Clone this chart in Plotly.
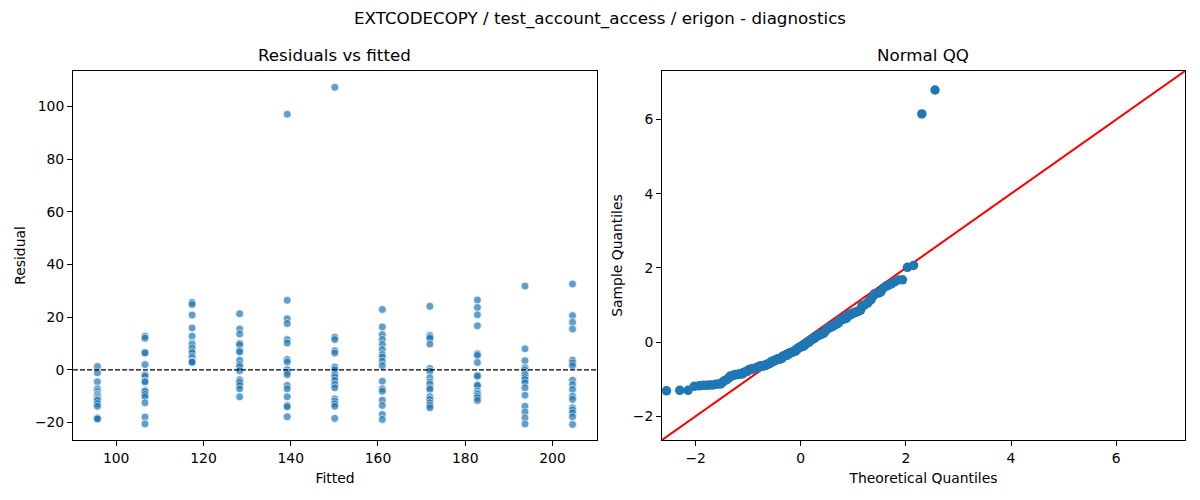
import plotly.graph_objects as go
import numpy as np
from statistics import NormalDist

# fitted level for each column of residuals
fitted_levels = [95.7, 106.6, 117.4, 128.3, 139.2, 150.1, 161.0, 171.9, 182.8, 193.7, 204.6]

# residuals read per fitted level (17 each)
res_95 = [1.3, -1.1, -4.5, -7.2, -8.2, -9.1, -9.5, -10.0, -10.5, -10.9, -11.3, -11.7, -12.8, -13.8, -18.2, -18.4, -18.6]
res_106 = [12.8, 12.0, 6.7, 6.4, 2.0, -1.8, -2.4, -4.2, -4.6, -7.7, -8.0, -8.3, -9.3, -10.2, -12.5, -17.9, -20.5]
res_117 = [25.6, 24.8, 20.8, 15.9, 12.8, 10.2, 9.8, 9.3, 8.5, 8.0, 7.0, 6.4, 5.2, 4.5, 3.4, 3.0, 2.9]
res_128 = [21.3, 15.5, 13.6, 10.0, 9.5, 7.4, 6.8, 3.7, 2.0, 1.2, -0.3, -3.7, -4.3, -4.9, -5.9, -7.2, -10.2]
res_139 = [97.0, 26.4, 19.4, 17.6, 11.5, 10.2, 3.9, 3.0, 0.1, -0.9, -1.8, -5.9, -7.2, -10.2, -13.5, -14.0, -17.8]
res_150 = [107.2, 12.4, 11.5, 7.3, 6.4, 1.1, 0.1, -1.8, -2.7, -4.0, -5.5, -6.8, -11.0, -11.9, -12.9, -13.8, -18.4]
res_161 = [22.9, 16.3, 13.4, 11.5, 9.6, 7.7, 5.8, 4.9, 3.3, 1.6, -4.3, -7.2, -8.1, -11.5, -13.5, -16.9, -18.8]
res_172 = [24.1, 13.1, 12.5, 11.9, 9.8, 0.5, -0.5, -3.0, -4.7, -5.5, -6.8, -7.4, -10.2, -11.2, -12.5, -13.5, -14.4]
res_183 = [26.5, 23.7, 20.9, 16.7, 6.1, 5.5, 2.8, -2.0, -2.4, -5.6, -6.0, -8.1, -8.8, -9.3, -10.0, -10.6, -11.6]
res_194 = [31.8, 8.0, 3.5, 0.8, -0.1, -1.1, -1.6, -2.1, -2.9, -3.7, -4.9, -6.8, -9.6, -13.8, -16.0, -18.2, -20.5]
res_205 = [32.6, 20.6, 18.1, 15.5, 3.7, 2.7, 1.6, -3.9, -5.6, -7.4, -10.0, -11.2, -14.4, -15.2, -16.3, -17.8, -20.7]

columns = [res_95, res_106, res_117, res_128, res_139, res_150,
           res_161, res_172, res_183, res_194, res_205]

fitted = []
resid = []
for lvl, col in zip(fitted_levels, columns):
    fitted += [lvl] * len(col)
    resid += col
resid = np.array(resid)

# normal QQ: standardised residuals vs normal quantiles
n = len(resid)
sample_q = np.sort(resid / resid.std())
theo_q = np.array([NormalDist().inv_cdf(i / (n + 1)) for i in range(1, n + 1)])
qq_range = [-2.64, 7.31]

blue = "#1f77b4"
axis_style = dict(showline=True, mirror=True, linecolor="black", linewidth=1,
                  ticks="outside", ticklen=5, tickcolor="black", showgrid=False,
                  zeroline=False, automargin=False, tickfont=dict(size=13.9, color="black"))

fig = go.Figure()

fig.add_trace(go.Scatter(
    x=fitted, y=resid, mode="markers", xaxis="x", yaxis="y",
    marker=dict(color=blue, size=8, opacity=0.7, line=dict(color="white", width=0.8)),
    showlegend=False,
))
fig.add_trace(go.Scatter(
    x=qq_range, y=qq_range, mode="lines", xaxis="x2", yaxis="y2",
    line=dict(color="red", width=2), showlegend=False,
))
fig.add_trace(go.Scatter(
    x=theo_q, y=sample_q, mode="markers", xaxis="x2", yaxis="y2",
    marker=dict(color=blue, size=9.5), showlegend=False,
))

# dashed zero line on residual plot
fig.add_shape(type="line", xref="x domain", yref="y", x0=0, x1=1, y0=0, y1=0,
              line=dict(color="black", width=1.3, dash="5px,2px"))

title_font = dict(size=13.9, color="black")

fig.update_layout(
    width=1200, height=500,
    paper_bgcolor="white", plot_bgcolor="white",
    font=dict(family="DejaVu Sans", color="black", size=13.9),
    margin=dict(l=73, r=15, t=71, b=60),
    title=dict(text="EXTCODECOPY / test_account_access / erigon - diagnostics",
               x=0.5, xanchor="center", y=0.964, yanchor="middle", yref="container",
               font=dict(size=16.7)),
    xaxis=dict(domain=[0, 0.4712], range=[90.1, 210.2], tickvals=[100, 120, 140, 160, 180, 200],
               title=dict(text="Fitted", standoff=8, font=title_font), **axis_style),
    yaxis=dict(domain=[0, 1], range=[-26.6, 113.4], tickvals=[-20, 0, 20, 40, 60, 80, 100],
               title=dict(text="Residual", standoff=6, font=title_font), **axis_style),
    xaxis2=dict(domain=[0.5297, 1], range=qq_range, anchor="y2", tickvals=[-2, 0, 2, 4, 6],
                title=dict(text="Theoretical Quantiles", standoff=8, font=title_font), **axis_style),
    yaxis2=dict(domain=[0, 1], range=qq_range, anchor="x2", tickvals=[-2, 0, 2, 4, 6],
                title=dict(text="Sample Quantiles", standoff=6, font=title_font), **axis_style),
    annotations=[
        dict(text="Residuals vs fitted", xref="paper", yref="paper", x=0.2356, y=1,
             xanchor="center", yanchor="bottom", yshift=4, showarrow=False, font=dict(size=16.7)),
        dict(text="Normal QQ", xref="paper", yref="paper", x=0.7648, y=1,
             xanchor="center", yanchor="bottom", yshift=4, showarrow=False, font=dict(size=16.7)),
    ],
)

fig.write_html("out.html", config={"displayModeBar": False},
               post_script="document.body.style.margin='0';")
